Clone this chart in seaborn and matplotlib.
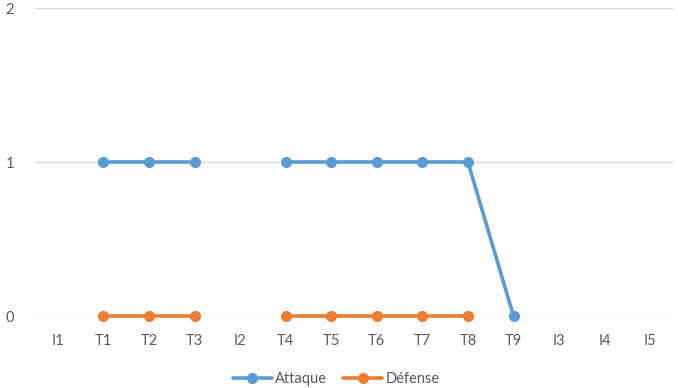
# import the libraries
import numpy as np
import pandas as pd
import seaborn as sns
import matplotlib.pyplot as plt

# chart data
categories = ["I1", "T1", "T2", "T3", "I2", "T4", "T5", "T6", "T7", "T8", "T9", "I3", "I4", "I5"]
attaque = [np.nan, 1, 1, 1, np.nan, 1, 1, 1, 1, 1, 0, np.nan, np.nan, np.nan]
defense = [np.nan, 0, 0, 0, np.nan, 0, 0, 0, 0, 0, np.nan, np.nan, np.nan, np.nan]
series_names = ["Attaque", "Défense"]
colors = ["#5B9BD5", "#ED7D31"]

# build long table, one segment id per unbroken run so gaps stay open
rows = []
for name, values in zip(series_names, [attaque, defense]):
    seg = 0
    for i, v in enumerate(values):
        if np.isnan(v):
            seg += 1
            continue
        rows.append({"pos": i, "value": v, "series": name, "seg": f"{name}-{seg}"})
df = pd.DataFrame(rows)

sns.set_theme(style="white")
plt.rcParams["font.family"] = ["Lato", "DejaVu Sans"]

fig = plt.figure(figsize=(6.78, 3.88), dpi=100)
ax = fig.add_axes([35 / 678, 72 / 388, 638 / 678, 308 / 388])

sns.lineplot(
    data=df, x="pos", y="value", hue="series", units="seg", estimator=None,
    palette=dict(zip(series_names, colors)), hue_order=series_names,
    marker="o", markersize=8, markeredgewidth=0, linewidth=2.6,
    ax=ax, clip_on=False, zorder=3,
)

# axes look like Excel
ax.set_xlim(-0.5, len(categories) - 0.5)
ax.set_ylim(0, 2)
ax.set_yticks([0, 1, 2])
ax.set_xticks(range(len(categories)))
ax.set_xticklabels(categories)
ax.yaxis.grid(True, color="#D9D9D9", linewidth=1)
ax.set_axisbelow(True)
for s in ax.spines.values():
    s.set_visible(False)
ax.tick_params(axis="x", length=0, pad=13, labelsize=10.5, labelcolor="#595959")
ax.tick_params(axis="y", length=0, pad=15, labelsize=10.5, labelcolor="#595959")
ax.set_xlabel("")
ax.set_ylabel("")

# legend at the bottom
handles, labels = ax.get_legend_handles_labels()
ax.legend(
    handles, labels, loc="center", bbox_to_anchor=(0.472, -0.205), ncol=2,
    frameon=False, fontsize=10.5, labelcolor="#595959", handlelength=2.7,
    columnspacing=1.1, handletextpad=0.2,
)

fig.savefig("out.png", dpi=100)
